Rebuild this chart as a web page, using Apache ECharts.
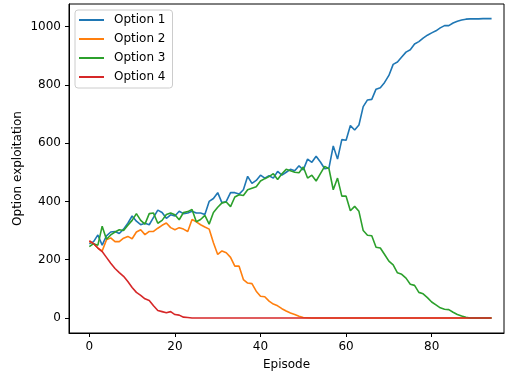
<!DOCTYPE html>
<html>
<head>
<meta charset="utf-8">
<script src="https://cdn.jsdelivr.net/npm/echarts@6/dist/echarts.min.js"></script>
<style>
html,body{margin:0;padding:0;background:#fff;}
#chart{width:507px;height:375px;}
</style>
</head>
<body>
<div id="chart"></div>
<script>
var seriesNames = ['Option 1', 'Option 2', 'Option 3', 'Option 4'];
var option1 = [255,262,285,250,282,295,297,290,305,325,350,332,320,325,320,345,370,362,342,354,350,366,358,360,366,360,360,355,400,410,430,395,400,430,430,425,440,486,462,472,490,480,488,480,503,490,500,510,505,522,508,545,534,555,535,512,515,590,545,612,610,660,645,662,725,748,750,785,790,808,832,870,878,895,912,920,940,948,960,970,978,985,995,1003,1003,1012,1018,1022,1025,1026,1026,1026,1027,1027,1027];
var option2 = [262,255,240,230,268,275,262,262,274,280,272,295,303,286,297,297,308,318,326,310,303,310,305,297,338,330,320,312,305,258,218,230,224,208,178,178,132,120,118,92,75,73,58,48,42,32,24,17,12,6,2,1,0,0,0,0,0,0,0,0,0,0,0,0,0,0,0,0,0,0,0,0,0,0,0,0,0,0,0,0,0,0,0,0,0,0,0,0,0,0,0,0,0,0,0];
var option3 = [245,255,250,315,270,285,295,303,300,318,335,358,335,322,358,360,325,335,355,360,354,337,362,365,372,330,338,352,322,362,380,395,398,382,415,423,420,440,445,450,470,478,485,495,475,495,510,505,500,498,518,480,490,470,495,520,512,440,480,418,418,368,383,366,300,284,282,243,240,218,195,182,155,150,137,116,112,88,83,70,55,45,35,30,29,20,12,7,3,0,0,0,0,0,0];
var option4 = [265,255,240,228,208,188,170,156,143,125,105,88,78,66,60,42,26,22,18,22,12,10,3,2,0,0,0,0,0,0,0,0,0,0,0,0,0,0,0,0,0,0,0,0,0,0,0,0,0,0,0,0,0,0,0,0,0,0,0,0,0,0,0,0,0,0,0,0,0,0,0,0,0,0,0,0,0,0,0,0,0,0,0,0,0,0,0,0,0,0,0,0,0,0,0];
var xTicks = [0, 20, 40, 60, 80];
var yTicks = [0, 200, 400, 600, 800, 1000];
var colors = ['#1f77b4', '#ff7f0e', '#2ca02c', '#d62728'];

var allSeries = [option1, option2, option3, option4];
function pairs(arr) { return arr.map(function (v, i) { return [i, v]; }); }

var font = 'DejaVu Sans';
var chart = echarts.init(document.getElementById('chart'), null, {renderer: 'canvas'});
chart.setOption({
  animation: false,
  color: colors,
  grid: {left: 69, right: 3, top: 4, bottom: 42, containLabel: false, outerBoundsMode: 'none',
         show: true, borderColor: '#000', borderWidth: 1, backgroundColor: 'transparent'},
  legend: {
    data: seriesNames,
    orient: 'vertical',
    left: 75, top: 10,
    icon: 'rect',
    itemWidth: 25, itemHeight: 2,
    itemGap: 5,
    padding: [3, 7, 4, 4],
    backgroundColor: 'rgba(255,255,255,0.8)',
    borderColor: '#cccccc', borderWidth: 1, borderRadius: 3,
    textStyle: {fontFamily: font, fontSize: 12, color: '#000', lineHeight: 14, padding: [0, 0, 0, 5]}
  },
  xAxis: {
    type: 'value', min: -4.75, max: 96.9,
    name: 'Episode', nameLocation: 'middle', nameGap: 26, nameMoveOverlap: false,
    nameTextStyle: {fontFamily: font, fontSize: 12, color: '#000'},
    axisLine: {show: true, onZero: false, lineStyle: {color: '#000', width: 1}},
    axisTick: {show: true, length: 4, lineStyle: {color: '#000', width: 1}, customValues: xTicks},
    axisLabel: {fontFamily: font, fontSize: 12, color: '#000', margin: 8, customValues: xTicks,
                formatter: function (v) { return String(v); }},
    splitLine: {show: false}
  },
  yAxis: {
    type: 'value', min: -51.3, max: 1077,
    name: 'Option exploitation', nameLocation: 'middle', nameGap: 45, nameMoveOverlap: false,
    nameTextStyle: {fontFamily: font, fontSize: 12, color: '#000'},
    axisLine: {show: true, onZero: false, lineStyle: {color: '#000', width: 1}},
    axisTick: {show: true, length: 4, lineStyle: {color: '#000', width: 1}, customValues: yTicks},
    axisLabel: {fontFamily: font, fontSize: 12, color: '#000', margin: 8, customValues: yTicks,
                formatter: function (v) { return String(v); }},
    splitLine: {show: false}
  },
  series: seriesNames.map(function (n, k) {
    return {
      name: n, type: 'line', data: pairs(allSeries[k]),
      showSymbol: false, symbol: 'none',
      lineStyle: {width: 1.6, color: colors[k]},
      itemStyle: {color: colors[k]}
    };
  })
});
</script>
</body>
</html>
